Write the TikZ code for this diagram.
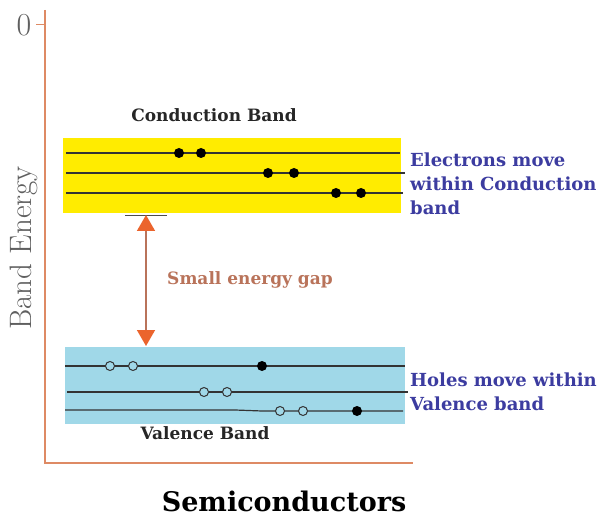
\documentclass[tikz,border=0pt]{standalone}
\usepackage{fontspec}
\newfontfamily\bandfont{DejaVu Serif}
\usetikzlibrary{arrows.meta}

\definecolor{axisorange}{RGB}{222,138,100}
\definecolor{bandyellow}{RGB}{255,236,0}
\definecolor{bandblue}{RGB}{160,216,232}
\definecolor{gaporange}{RGB}{235,100,45}
\definecolor{gapbrown}{RGB}{185,115,90}
\definecolor{noteblue}{RGB}{60,60,160}
\definecolor{labelgray}{RGB}{95,95,95}

\tikzset{
  level/.style={black!80, line width=1.2pt},
  electron/.style={fill=black},
  hole/.style={draw=black!80, fill=bandblue, line width=1pt},
  bandtitle/.style={font=\bandfont\bfseries\fontsize{17}{20}\selectfont, text=black!85},
  note/.style={font=\bandfont\bfseries\fontsize{18}{24}\selectfont, text=noteblue, align=left, anchor=north west, inner sep=0pt}
}

\begin{document}
\begin{tikzpicture}[x=1pt, y=1pt]
    \useasboundingbox (0,0) rectangle (605,520);

    % axes
    \draw[axisorange, line width=2.5pt] (45,510) -- (45,57) -- (413,57);
    \draw[axisorange, line width=1pt] (36,495) -- (45,495);
    \node[labelgray, font=\fontsize{32}{32}\selectfont, inner sep=0pt] (zero) at (24,495) {0};
    \node[labelgray, rotate=90, font=\fontsize{31}{31}\selectfont] (energylabel) at (24,272) {Band Energy};

    % conduction band
    \fill[bandyellow] (63,307) rectangle (401,382);
    \draw[level] (66,367) -- (400,367);
    \draw[level] (66,347) -- (405,347);
    \draw[level] (66,327) -- (403,327);
    \foreach \x/\y in {179/367, 201/367, 268/347, 294/347, 336/327, 361/327}
        \fill[electron] (\x,\y) circle (5);
    \node[bandtitle] (cbtitle) at (214,405) {Conduction Band};

    % valence band
    \fill[bandblue] (65,96) rectangle (405,173);
    \draw[level] (65,154) -- (405,154);
    \draw[level] (67,128) -- (408,128);
    \draw[level] (65,110) -- (235,110) -- (262,109) -- (403,109);
    \foreach \x/\y in {110/154, 133/154, 204/128, 227/128, 280/109, 303/109}
        \draw[hole] (\x,\y) circle (4.5);
    \foreach \x/\y in {262/154, 357/109}
        \fill[electron] (\x,\y) circle (5);
    \node[bandtitle] (vbtitle) at (205,87) {Valence Band};

    % energy gap
    \draw[black!70, line width=0.8pt] (125,305) -- (167,305);
    \coordinate (gaptop) at (146,305);
    \coordinate (gapbot) at (146,174);
    \draw[gapbrown, line width=1.5pt, {Triangle[length=16pt, width=18pt, color=gaporange]}-{Triangle[length=16pt, width=18pt, color=gaporange]}] (gaptop) -- (gapbot);
    \node[text=gapbrown, font=\bandfont\bfseries\fontsize{17}{20}\selectfont] (gaplabel) at (250,240) {Small energy gap};

    % notes
    \node[note] (electronnote) at (410,367) {Electrons move\\within Conduction\\band};
    \node[note] (holenote) at (410,147) {Holes move within\\Valence band};

    \node[font=\bandfont\bfseries\fontsize{27}{30}\selectfont, inner sep=1pt] (title) at (284,19) {Semiconductors};
\end{tikzpicture}
\end{document}
